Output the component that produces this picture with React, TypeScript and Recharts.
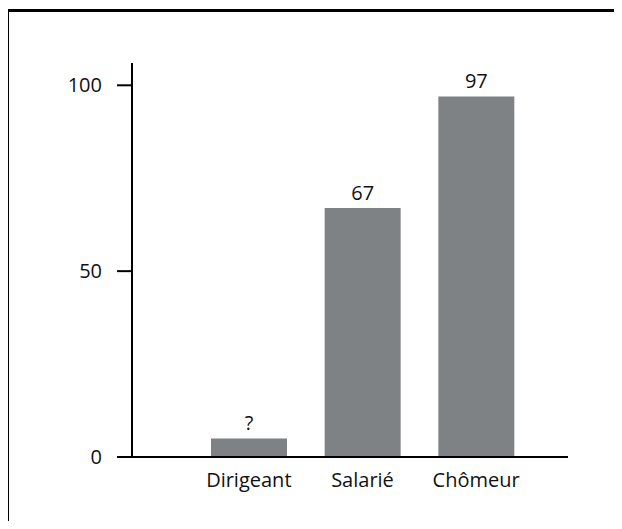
import { BarChart, Bar, XAxis, YAxis, LabelList } from "recharts";

const categories = ["Dirigeant", "Salarié", "Chômeur"];
const values = [5, 67, 97];
const valueLabels = ["?", "67", "97"];
const yTicks = [0, 50, 100];

const data = categories.map((name, i) => ({
  name,
  value: values[i],
  label: valueLabels[i],
}));

const FONT = "'Open Sans', sans-serif";
const TEXT = "#111";
const BAR_COLOR = "#7f8285";

export default function App() {
  return (
    <div
      style={{
        position: "relative",
        margin: -8,
        width: 622,
        height: 529,
        background: "#fff",
        overflow: "hidden",
      }}
    >
      {/* frame: only top and left edges show in the picture */}
      <div style={{ position: "absolute", left: 6, top: 9, width: 616, height: 3, background: "#000" }} />
      <div style={{ position: "absolute", left: 6, top: 9, width: 3, height: 520, background: "#000" }} />
      <div style={{ position: "absolute", left: 0, top: 0 }}>
        <BarChart
          width={622}
          height={529}
          data={data}
          margin={{ top: 63, right: 54, left: 0, bottom: 32 }}
        >
          <XAxis
            dataKey="name"
            axisLine={{ stroke: "#000", strokeWidth: 2 }}
            tickLine={false}
            tickSize={0}
            tickMargin={16}
            height={40}
            padding={{ left: 60, right: 35 }}
            tick={{ fontSize: 20, fill: TEXT, fontFamily: FONT }}
          />
          <YAxis
            domain={[0, 106]}
            ticks={yTicks}
            width={132}
            axisLine={{ stroke: "#000", strokeWidth: 2 }}
            tickLine={{ stroke: "#000", strokeWidth: 2 }}
            tickSize={15}
            tickMargin={15}
            tick={{ fontSize: 20, fill: TEXT, fontFamily: FONT }}
          />
          <Bar dataKey="value" fill={BAR_COLOR} barSize={76} isAnimationActive={false}>
            <LabelList
              dataKey="label"
              position="top"
              offset={8}
              style={{ fontSize: 20, fill: TEXT, fontFamily: FONT }}
            />
          </Bar>
        </BarChart>
      </div>
    </div>
  );
}
